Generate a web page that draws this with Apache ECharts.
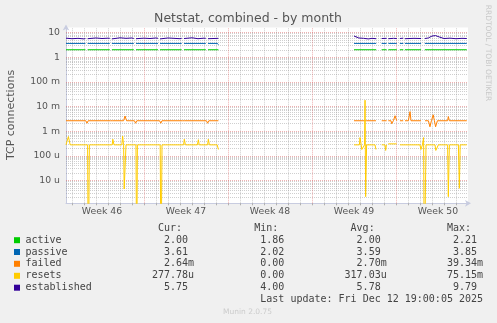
<!DOCTYPE html>
<html><head><meta charset="utf-8">
<script src="https://cdn.jsdelivr.net/npm/echarts@6/dist/echarts.min.js"></script>
<style>html,body{margin:0;padding:0;background:#f0f0f0;}#c{width:497px;height:323px;}</style>
</head><body><div id="c"></div>
<script>
// ---- axis labels ----
const weekLabels = ['Week 46','Week 47','Week 48','Week 49','Week 50'];
const weekLabelDays = [3.5,10.5,17.5,24.5,31.5];   // days since Mon Nov 10 00:00
const weekStartDays = [7,14,21,28];
const yTickValues = [1e-5,1e-4,1e-3,1e-2,1e-1,1,10];
const yTickLabels = ['10 u','100 u','1 m','10 m','100 m','1','10'];

// ---- series: [day, value] ----
const activeData = [[0.5,2.0],[2.12,2.0],[2.2,null],[2.3,2.0],[4.15,2.0],[4.22,null],[4.32,2.0],[6.15,2.0],[6.22,null],[6.33,2.0],[8.17,2.0],[8.25,null],[8.33,2.0],[10.14,2.0],[10.22,null],[10.33,2.0],[12.15,2.0],[12.24,null],[12.33,2.0],[13.2,2.0],[13.3,null],
[24.5,2.0],[26.35,2.0],[26.5,null],[26.8,2.0],[27.22,2.0],[27.3,null],[27.36,2.0],[28.07,2.0],[28.2,null],[28.32,2.0],[28.61,2.0],[28.68,null],[28.74,2.0],[30.09,2.0],[30.25,null],[30.4,2.0],[33.9,2.0]];
const passiveData = [[0.5,3.61],[2.12,3.61],[2.2,null],[2.3,3.61],[4.15,3.61],[4.22,null],[4.32,3.61],[6.15,3.61],[6.22,null],[6.33,3.61],[8.17,3.61],[8.25,null],[8.33,3.61],[10.14,3.61],[10.22,null],[10.33,3.61],[12.15,3.61],[12.24,null],[12.33,3.61],[13.12,3.61],[13.2,3.2],[13.3,null],
[24.5,3.61],[26.35,3.61],[26.5,null],[26.8,3.61],[27.22,3.61],[27.3,null],[27.36,3.61],[28.07,3.61],[28.2,null],[28.32,3.61],[28.61,3.61],[28.68,null],[28.74,3.61],[30.09,3.61],[30.25,null],[30.4,3.61],[33.9,3.61]];
const failedData = [[0.5,2.64e-3],[2.15,2.64e-3],[2.25,2.1e-3],[2.35,2.64e-3],[4.2,2.64e-3],[4.3,2.2e-3],[4.4,2.64e-3],[5.3,2.64e-3],[5.42,4.1e-3],[5.55,2.64e-3],[6.2,2.64e-3],[6.3,2.1e-3],[6.4,2.64e-3],[8.3,2.64e-3],[8.4,2.1e-3],[8.5,2.64e-3],[10.2,2.64e-3],[10.3,2.4e-3],[10.4,2.64e-3],[12.2,2.64e-3],[12.3,2.1e-3],[12.4,2.64e-3],[13.2,2.64e-3],[13.3,null],
[24.5,2.64e-3],[25.35,2.64e-3],[25.5,2.2e-3],[25.56,2.64e-3],[26.33,2.64e-3],[26.5,null],[26.81,2.64e-3],[27.22,2.64e-3],[27.3,null],[27.36,2.64e-3],[27.58,2.64e-3],[27.64,2.0e-3],[27.78,2.64e-3],[27.92,4.2e-3],[28.06,2.64e-3],[28.2,null],[28.33,2.64e-3],[28.6,2.64e-3],[28.68,null],[28.75,2.64e-3],[29.03,2.64e-3],[29.17,6.2e-3],[29.25,2.64e-3],[30.08,2.64e-3],[30.25,null],[30.42,2.64e-3],[30.7,2.64e-3],[30.83,1.5e-3],[30.95,2.64e-3],[31.1,4.6e-3],[31.2,2.64e-3],[31.3,1.5e-3],[31.45,2.64e-3],[32.3,2.64e-3],[32.36,3.9e-3],[32.45,2.64e-3],[33.9,2.64e-3]];
const resetsData = [[0.5,2.78e-4],[0.7,6.0e-4],[0.85,2.78e-4],[2.3,2.78e-4],[2.36,0],[2.45,2.78e-4],[4.35,2.78e-4],[4.4,4.7e-4],[4.5,2.78e-4],[5.15,2.78e-4],[5.22,6.3e-4],[5.3,2.78e-4],[5.35,4.5e-6],[5.45,4.5e-6],[5.5,2.78e-4],[6.33,2.78e-4],[6.39,0],[6.45,2.78e-4],[8.35,2.78e-4],[8.42,0],[8.5,2.78e-4],[10.3,2.78e-4],[10.36,4.7e-4],[10.45,2.78e-4],[11.45,2.78e-4],[11.53,4.5e-4],[11.6,2.78e-4],[12.3,2.78e-4],[12.36,4.7e-4],[12.45,2.78e-4],[13.1,2.78e-4],[13.2,1.8e-4],[13.3,null],
[24.5,2.78e-4],[24.95,2.78e-4],[25.0,5.5e-4],[25.1,2.78e-4],[25.15,1.8e-4],[25.3,1.8e-4],[25.38,2.78e-4],[25.42,1.8e-2],[25.47,2.2e-6],[25.55,2.78e-4],[26.25,2.78e-4],[26.33,1.8e-4],[26.4,null],[26.81,2.78e-4],[27.08,2.78e-4],[27.14,1.65e-4],[27.2,2.78e-4],[27.3,null],[27.36,3.05e-4],[28.06,3.05e-4],[28.2,null],[28.33,2.78e-4],[30.0,2.78e-4],[30.08,1.8e-4],[30.2,2.78e-4],[30.3,5.5e-4],[30.36,0],[30.5,2.78e-4],[31.25,2.78e-4],[31.32,1.65e-4],[31.45,1.65e-4],[31.53,2.78e-4],[32.3,2.78e-4],[32.36,2.2e-6],[32.45,2.78e-4],[33.2,2.78e-4],[33.28,4.8e-6],[33.35,2.78e-4],[33.9,2.78e-4]];
const establishedData = [[0.5,5.9],[1.0,5.6],[1.5,5.8],[2.0,5.5],[2.12,5.7],[2.2,null],[2.3,5.6],[3.0,6.0],[3.5,5.7],[4.0,5.9],[4.15,5.8],[4.22,null],[4.32,5.5],[5.0,6.1],[5.5,5.8],[6.0,6.0],[6.15,5.7],[6.22,null],[6.33,5.6],[7.0,5.9],[7.5,5.7],[8.0,6.0],[8.17,5.8],[8.25,null],[8.33,5.5],[9.0,6.0],[9.5,5.8],[10.0,5.6],[10.14,5.8],[10.22,null],[10.33,5.7],[11.0,6.1],[11.5,5.6],[12.0,5.9],[12.15,5.8],[12.24,null],[12.33,5.6],[13.2,5.8],[13.3,null],
[24.5,7.2],[24.9,6.0],[25.3,5.8],[25.7,5.5],[26.0,5.8],[26.35,5.6],[26.5,null],[26.8,5.7],[27.22,5.8],[27.3,null],[27.36,5.6],[27.8,5.8],[28.07,5.7],[28.2,null],[28.32,5.7],[28.61,5.9],[28.68,null],[28.74,5.6],[29.5,5.8],[30.09,5.7],[30.25,null],[30.4,5.7],[30.7,6.0],[31.0,7.2],[31.3,7.5],[31.6,6.6],[32.0,5.7],[32.5,5.9],[33.0,5.6],[33.5,5.8],[33.9,5.7]];

// ---- legend text ----
const legendNames = ['active','passive','failed','resets','established'];
const legendColors = ['#00cc00','#0066b3','#ff8000','#ffcc00','#330099'];
const legendCur = ['2.00','3.61','2.64m','277.78u','5.75'];
const legendMin = ['1.86','2.02','0.00','0.00','4.00'];
const legendAvg = ['2.00','3.59','2.70m','317.03u','5.78'];
const legendMax = ['2.21','3.85','39.34m','75.15m','9.79'];
const lastUpdate = 'Last update: Fri Dec 12 19:00:05 2025';

const seriesList = [activeData, passiveData, failedData, resetsData, establishedData];
const toLog = d => [d[0], d[1] == null ? null : (d[1] > 0 ? Math.log10(d[1]) : -9)];

// grid lines (styling only)
const gridLines = [];
const minorStyle = {color:'rgba(140,140,140,0.42)', width:1, type:[1,1]};
const majorStyle = {color:'rgba(220,80,80,0.45)', width:1, type:[1,1]};
for (let n = -6; n <= 1; n++) {
  for (let k = 2; k <= 9; k++) {
    const v = Math.log10(k) + n;
    if (v > -5.926 && v < 1.203) gridLines.push({yAxis: v, lineStyle: minorStyle});
  }
}
yTickValues.forEach(v => gridLines.push({yAxis: Math.log10(v), lineStyle: majorStyle}));
for (let d = 1; d <= 33; d++) {
  gridLines.push({xAxis: d, lineStyle: weekStartDays.includes(d) ? majorStyle : minorStyle});
}

const chart = echarts.init(document.getElementById('c'), null, {renderer:'canvas'});
const font = 'DejaVu Sans';
const cw = 6.02, x0 = 25.5;
const rowY = [240.2, 252.0, 263.8, 275.8, 287.7];
const graphics = [];
graphics.push({type:'text', x:248, y:19, style:{text:'Netstat, combined - by month', font:'12.5px "DejaVu Sans"', fill:'#555', align:'center', verticalAlign:'middle'}});
graphics.push({type:'text', x:11, y:115, rotation:Math.PI/2, style:{text:'TCP connections', font:'11px "DejaVu Sans"', fill:'#555', align:'center', verticalAlign:'middle'}});
graphics.push({type:'text', x:487.5, y:53, rotation:-Math.PI/2, style:{text:'RRDTOOL / TOBI OETIKER', font:'7.5px "DejaVu Sans"', fill:'#c8c8c8', align:'center', verticalAlign:'middle'}});
graphics.push({type:'text', x:247.5, y:311.8, style:{text:'Munin 2.0.75', font:'7.5px "DejaVu Sans"', fill:'#cccccc', align:'center', verticalAlign:'middle'}});
const hdr = [['Cur:',22],['Min:',38],['Avg:',54],['Max:',70]];
hdr.forEach(h => graphics.push({type:'text', x:x0 + h[1]*cw, y:228, style:{text:h[0], font:'10px "DejaVu Sans Mono"', fill:'#444', align:'left', verticalAlign:'middle'}}));
function pushVal(s, start, y) {
  const m = s.match(/^([0-9.]+)([a-z]?)$/);
  const xr = x0 + (start + 6) * cw;
  graphics.push({type:'text', x:xr, y:y, style:{text:m[1], font:'10px "DejaVu Sans Mono"', fill:'#444', align:'right', verticalAlign:'middle'}});
  if (m[2]) graphics.push({type:'text', x:xr, y:y, style:{text:m[2], font:'10px "DejaVu Sans Mono"', fill:'#444', align:'left', verticalAlign:'middle'}});
}
legendNames.forEach((nm, i) => {
  const y = rowY[i];
  graphics.push({type:'rect', shape:{x:14, y:y-3, width:6, height:6}, style:{fill:legendColors[i]}});
  graphics.push({type:'text', x:x0, y:y, style:{text:nm, font:'10px "DejaVu Sans Mono"', fill:'#444', align:'left', verticalAlign:'middle'}});
  pushVal(legendCur[i], 21, y);
  pushVal(legendMin[i], 37, y);
  pushVal(legendAvg[i], 53, y);
  pushVal(legendMax[i], 69, y);
});
graphics.push({type:'text', x:x0 + 39*cw, y:299.5, style:{text:lastUpdate, font:'10px "DejaVu Sans Mono"', fill:'#444', align:'left', verticalAlign:'middle'}});

const option = {
  animation: false,
  backgroundColor: '#f0f0f0',
  grid: {left:66, right:29, top:27.5, bottom:119.7, show:true, backgroundColor:'#ffffff', borderWidth:0, containLabel:false, outerBoundsMode:'none'},
  xAxis: {
    type:'value', min:0.5, max:34,
    axisLine:{show:true, onZero:false, lineStyle:{color:'#c8cce0', width:1}, symbol:['none','arrow'], symbolSize:[5,6], symbolOffset:[0,3]},
    axisTick:{show:true, customValues:Array.from({length:33},(_, i)=>i+1), length:2, inside:false, lineStyle:{color:'#b0b0b0'}},
    axisLabel:{customValues:weekLabelDays, formatter:v => weekLabels[weekLabelDays.indexOf(v)], color:'#555', fontFamily:font, fontSize:9.3, margin:4},
    splitLine:{show:false}
  },
  yAxis: {
    type:'value', min:-5.926, max:1.203,
    axisLine:{show:true, onZero:false, lineStyle:{color:'#c8cce0', width:1}, symbol:['none','arrow'], symbolSize:[5,6], symbolOffset:[0,3]},
    axisTick:{show:false},
    axisLabel:{customValues:yTickValues.map(v=>Math.log10(v)), formatter:v => {
      const i = yTickValues.findIndex(t => Math.abs(Math.log10(t) - v) < 1e-6);
      return i >= 0 ? yTickLabels[i] : '';
    }, color:'#555', fontFamily:font, fontSize:9.3, margin:6},
    splitLine:{show:false}
  },
  graphic: graphics,
  series: seriesList.map((d, i) => ({
    type:'line', name:legendNames[i], data:d.map(toLog), showSymbol:false, symbol:'none',
    connectNulls:false, clip:true, z:2 + i,
    lineStyle:{color:legendColors[i], width:1}, itemStyle:{color:legendColors[i]},
    markLine: i === 0 ? {silent:true, symbol:['none','none'], z:1, label:{show:false}, emphasis:{disabled:true}, animation:false, data:gridLines} : undefined
  }))
};
chart.setOption(option);
</script></body></html>
